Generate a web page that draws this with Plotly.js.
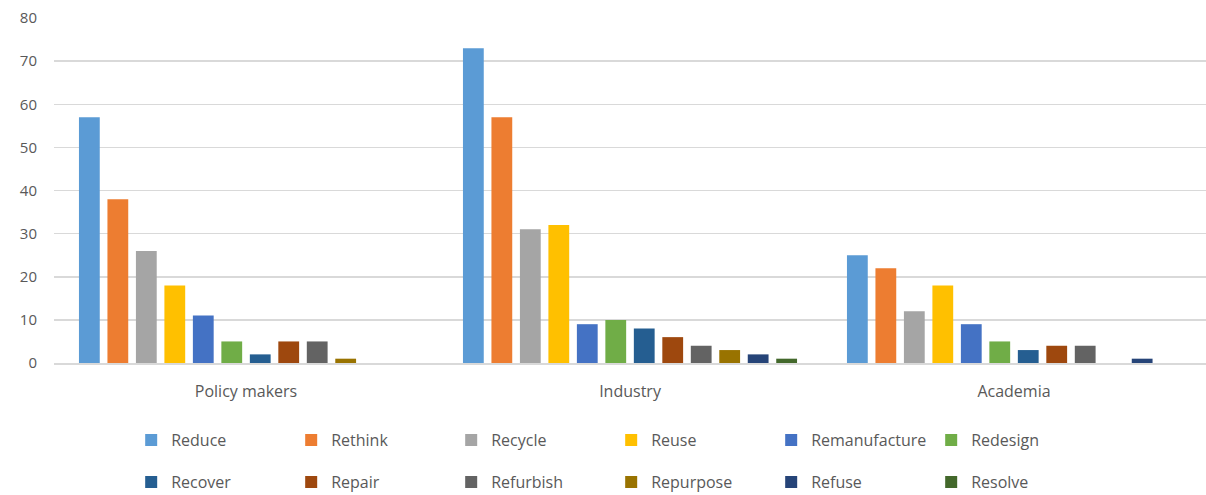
<!DOCTYPE html>
<html>
<head>
<meta charset="utf-8">
<script src="https://cdn.plot.ly/plotly-3.0.1.min.js"></script>
<style>html,body{margin:0;padding:0;background:#fff}#chart{width:1206px;height:495px}</style>
</head>
<body>
<div id="chart"></div>
<script>
const categories = ["Policy makers", "Industry", "Academia"];
const seriesNames = ["Reduce", "Rethink", "Recycle", "Reuse", "Remanufacture", "Redesign",
  "Recover", "Repair", "Refurbish", "Repurpose", "Refuse", "Resolve"];
const reduce = [57, 73, 25];
const rethink = [38, 57, 22];
const recycle = [26, 31, 12];
const reuse = [18, 32, 18];
const remanufacture = [11, 9, 9];
const redesign = [5, 10, 5];
const recover = [2, 8, 3];
const repair = [5, 6, 4];
const refurbish = [5, 4, 4];
const repurpose = [1, 3, 0];
const refuse = [0, 2, 1];
const resolve = [0, 1, 0];
const seriesValues = [reduce, rethink, recycle, reuse, remanufacture, redesign,
  recover, repair, refurbish, repurpose, refuse, resolve];
const colors = ["#5B9BD5", "#ED7D31", "#A5A5A5", "#FFC000", "#4472C4", "#70AD47",
  "#255E91", "#9E480E", "#636363", "#997300", "#264478", "#43682B"];
const yTicks = [0, 10, 20, 30, 40, 50, 60, 70, 80];

const traces = seriesNames.map((name, i) => ({
  type: "bar",
  name: name,
  x: categories,
  y: seriesValues[i],
  legend: i < 6 ? "legend" : "legend2",
  marker: { color: colors[i], line: { width: 0 } },
  hoverinfo: "x+y+name"
}));

const legendBase = {
  orientation: "h",
  x: 0.067,
  xanchor: "left",
  yref: "container",
  yanchor: "top",
  entrywidth: 115,
  entrywidthmode: "pixels",
  font: { size: 16, color: "#595959" },
  traceorder: "normal",
  bgcolor: "rgba(0,0,0,0)"
};

const layout = {
  width: 1206,
  height: 495,
  margin: { l: 54, r: 0, t: 18, b: 132, autoexpand: false },
  paper_bgcolor: "#ffffff",
  plot_bgcolor: "#ffffff",
  font: { family: "Open Sans, sans-serif", size: 15, color: "#595959" },
  barmode: "group",
  bargap: 0.11,
  bargroupgap: 0.27,
  showlegend: true,
  xaxis: {
    type: "category",
    automargin: false,
    showgrid: false,
    showline: true,
    linecolor: "#D9D9D9",
    linewidth: 1.5,
    ticks: "",
    tickfont: { size: 16, color: "#595959" },
    ticklabelstandoff: 13
  },
  yaxis: {
    range: [0, 80],
    automargin: false,
    tickvals: yTicks,
    ticktext: yTicks.map(String),
    showgrid: true,
    gridcolor: "#D9D9D9",
    gridwidth: 1.5,
    zeroline: false,
    showline: false,
    ticks: "",
    tickfont: { size: 15, color: "#595959" },
    ticklabelstandoff: 16
  },
  legend: Object.assign({}, legendBase, { y: 0.1455 }),
  legend2: Object.assign({}, legendBase, { y: 0.0606 })
};

Plotly.newPlot("chart", traces, layout, { displayModeBar: false, staticPlot: true });
</script>
</body>
</html>
